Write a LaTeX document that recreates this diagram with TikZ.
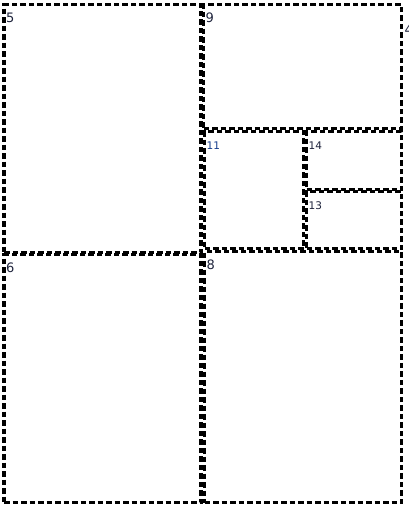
\documentclass[tikz,border=0pt]{standalone}
\usepackage{fontspec}
\setmainfont{DejaVu Sans}
\usepackage{tikz}
\usetikzlibrary{positioning}
\definecolor{numc}{RGB}{30,35,60}
\definecolor{numb}{RGB}{20,60,140}

\begin{document}
\begin{tikzpicture}[x=1pt, y=-1pt,
  cell/.style={draw, line width=3.6pt, dash pattern=on 5.5pt off 3pt, anchor=north west, inner sep=0pt, outer sep=0pt},
  num/.style={font=\fontsize{13}{13}\selectfont, text=numc, inner sep=0pt},
  small/.style={num, font=\fontsize{10.5}{10.5}\selectfont}
]
  \useasboundingbox[fill=white] (0,0) rectangle (408,509);

  \node[cell, minimum width=197pt, minimum height=248pt] (c5) at (4,4.5) {};
  \node[cell, minimum width=198pt, minimum height=124pt] (c9) at (203.5,4.5) {};
  \node[cell, minimum width=99pt, minimum height=117pt] (c11) at (204.5,131.5) {};
  \node[cell, minimum width=95pt, minimum height=58pt] (c14) at (306.5,131.5) {};
  \node[cell, minimum width=95pt, minimum height=57pt] (c13) at (306.5,191.5) {};
  \node[cell, minimum width=197pt, minimum height=248pt] (c6) at (4,254.5) {};
  \node[cell, minimum width=197pt, minimum height=251pt] (c8) at (204.5,251.5) {};

  \node[num, below right=8pt and 2pt of c5.north west] (l5) {5};
  \node[num, below right=8pt and 2pt of c9.north west] (l9) {9};
  \node[small, below right=10pt and 2pt of c11.north west, text=numb] (l11) {11};
  \node[small, below right=10pt and 2pt of c14.north west] (l14) {14};
  \node[small, below right=10pt and 2pt of c13.north west] (l13) {13};
  \node[num, below right=8pt and 2pt of c6.north west] (l6) {6};
  \node[num, below right=8pt and 2pt of c8.north west] (l8) {8};
  \node[num, anchor=north west, text=numc] (l4) at (404.5,25) {4};
\end{tikzpicture}
\end{document}
